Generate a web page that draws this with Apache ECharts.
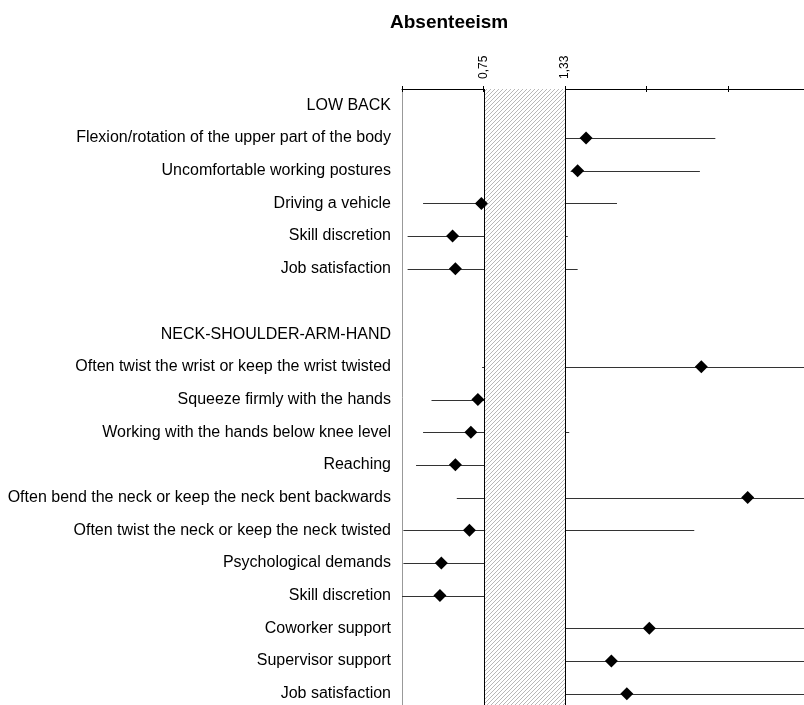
<!DOCTYPE html>
<html>
<head>
<meta charset="utf-8">
<script src="https://cdn.jsdelivr.net/npm/echarts@6/dist/echarts.min.js"></script>
<style>html,body{margin:0;padding:0;background:#fff}#c{width:804px;height:705px}</style>
</head>
<body>
<div id="c"></div>
<script>
const categories = ['LOW BACK','Flexion/rotation of the upper part of the body','Uncomfortable working postures','Driving a vehicle','Skill discretion','Job satisfaction','','NECK-SHOULDER-ARM-HAND','Often twist the wrist or keep the wrist twisted','Squeeze firmly with the hands','Working with the hands below knee level','Reaching','Often bend the neck or keep the neck bent backwards','Often twist the neck or keep the neck twisted','Psychological demands','Skill discretion','Coworker support','Supervisor support','Job satisfaction'];
const estimate = [null,1.48,1.42,0.735,0.53,0.55,null,null,2.30,0.71,0.66,0.55,2.63,0.65,0.45,0.44,1.93,1.66,1.77];
const lower    = [null,1.20,1.37,0.32,0.21,0.21,null,null,0.74,0.38,0.32,0.27,0.56,0.18,0.18,0.17,1.05,1.10,1.10];
const upper    = [null,2.40,2.29,1.70,1.35,1.42,null,null,3.50,1.10,1.36,1.05,3.50,2.25,1.00,1.00,3.50,3.50,3.50];
const refBand = [0.75, 1.33];
const tickValues = [0.75, 1.33];
const tickLabels = ['0,75', '1,33'];
const axisMin = 0.17, axisMax = 3.07, axisStep = 0.58;

const FONT = 'Liberation Sans, Arial, sans-serif';

// hatch pattern
const pc = document.createElement('canvas');
pc.width = 8; pc.height = 8;
const pctx = pc.getContext('2d');
pctx.fillStyle = '#fff'; pctx.fillRect(0,0,8,8);
pctx.strokeStyle = '#b8b8b8'; pctx.lineWidth = 1;
pctx.beginPath();
for (let o = -8; o <= 16; o += 4) { pctx.moveTo(o, 8); pctx.lineTo(o + 8, 0); }
pctx.stroke();

const ciData = [], ptData = [];
categories.forEach((c, i) => {
  if (estimate[i] != null) {
    ciData.push([lower[i], upper[i], i]);
    ptData.push([estimate[i], i]);
  }
});

const labelFormatter = v => {
  for (let k = 0; k < tickValues.length; k++) if (Math.abs(v - tickValues[k]) < 1e-6) return tickLabels[k];
  return '';
};

const chart = echarts.init(document.getElementById('c'), null, {renderer: 'canvas'});
chart.setOption({
  animation: false,
  title: {
    text: 'Absenteeism', left: 390, top: 13, padding: 0,
    textStyle: {fontFamily: FONT, fontSize: 19, fontWeight: 'bold', color: '#000'}
  },
  grid: {left: 402, top: 89, width: 407.5, height: 621, containLabel: false, outerBoundsMode: 'none'},
  xAxis: [{
    type: 'value', position: 'top', min: axisMin, max: axisMax, interval: axisStep,
    splitLine: {show: false},
    axisLine: {show: true, lineStyle: {color: '#000', width: 1}},
    axisTick: {show: true, length: 3, lineStyle: {color: '#000'}},
    axisLabel: {rotate: -90, margin: 10, fontFamily: FONT, fontSize: 12, color: '#000', formatter: labelFormatter}
  }, {
    type: 'value', position: 'top', min: axisMin, max: axisMax, interval: axisStep,
    splitLine: {show: false},
    axisLine: {show: false},
    axisTick: {show: true, inside: true, length: 3, lineStyle: {color: '#000'}},
    axisLabel: {show: false}
  }],
  yAxis: {
    type: 'category', inverse: true, data: categories,
    axisLine: {show: true, lineStyle: {color: '#999'}},
    axisTick: {show: false},
    splitLine: {show: false},
    axisLabel: {fontFamily: FONT, fontSize: 16, color: '#000', margin: 11, interval: 0}
  },
  series: [
    {
      type: 'custom', z: 2, data: ciData, encode: {x: [0, 1], y: 2}, clip: true,
      renderItem: (params, api) => {
        const p1 = api.coord([api.value(0), api.value(2)]);
        const p2 = api.coord([api.value(1), api.value(2)]);
        const y = Math.round(p1[1]) + 0.5;
        return {type: 'line', shape: {x1: p1[0], y1: y, x2: p2[0], y2: y}, style: {stroke: '#333', lineWidth: 1}};
      }
    },
    {
      type: 'custom', z: 3, data: [refBand], encode: {x: [0, 1]}, clip: true,
      renderItem: (params, api) => {
        const cs = params.coordSys;
        const x0 = Math.round(api.coord([api.value(0), 0])[0]) + 0.5;
        const x1 = Math.round(api.coord([api.value(1), 0])[0]) + 0.5;
        return {
          type: 'group',
          children: [
            {type: 'rect', shape: {x: x0, y: cs.y, width: x1 - x0, height: cs.height},
             style: {fill: {image: pc, repeat: 'repeat'}}},
            {type: 'line', shape: {x1: x0, y1: cs.y, x2: x0, y2: cs.y + cs.height}, style: {stroke: '#000', lineWidth: 1}},
            {type: 'line', shape: {x1: x1, y1: cs.y, x2: x1, y2: cs.y + cs.height}, style: {stroke: '#000', lineWidth: 1}}
          ]
        };
      }
    },
    {
      type: 'scatter', z: 4, data: ptData, symbol: 'diamond', symbolSize: 13,
      itemStyle: {color: '#000', opacity: 1}
    }
  ]
});
</script>
</body>
</html>
